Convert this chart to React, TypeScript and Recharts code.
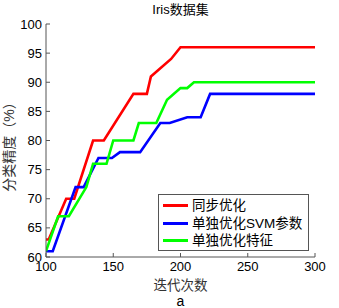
import { LineChart, Line, XAxis, YAxis } from 'recharts'

// iteration count (x) and classification accuracy in % (y)
const syncIter = [100, 102, 115, 121, 135, 143, 165, 175, 178, 193, 200, 300]
const syncAcc = [63, 63, 70, 70, 80, 80, 88, 88, 91, 94, 96, 96]

const svmIter = [100, 105, 122, 128, 139, 149, 155, 170, 185, 192, 205, 215, 222, 300]
const svmAcc = [61, 61, 72, 72, 77, 77, 78, 78, 83, 83, 84, 84, 88, 88]

const featIter = [100, 109, 117, 130, 135, 145, 150, 165, 169, 182, 190, 200, 205, 210, 300]
const featAcc = [61, 67, 67, 72, 76, 76, 80, 80, 83, 83, 87, 89, 89, 90, 90]

const seriesNames = ['同步优化', '单独优化SVM参数', '单独优化特征']
const xTicks = [100, 150, 200, 250, 300]
const yTicks = [60, 65, 70, 75, 80, 85, 90, 95, 100]

const toPoints = (xs: number[], ys: number[]) => xs.map((x, i) => ({ iter: x, acc: ys[i] }))

const colors = ['#ff0000', '#0000ff', '#00ff00']
const axisColor = '#555'
const numFont = '"Liberation Sans", Arial, sans-serif'
const cjkFont = '"Liberation Sans", "Noto Sans CJK SC", sans-serif'

// legend box drawn over the plot, like matlab's 'southeast' legend
const LegendBox = () => (
	<div
		style={{
			position: 'absolute',
			left: 158,
			top: 194,
			width: 151,
			height: 57,
			boxSizing: 'border-box',
			border: `1px solid ${axisColor}`,
			background: '#fff',
			paddingTop: 2,
		}}
	>
		{seriesNames.map((name, i) => (
			<div key={name} style={{ display: 'flex', alignItems: 'center', height: 17.5 }}>
				<div style={{ width: 25, height: 3, background: colors[i], marginLeft: 4, marginRight: 4 }} />
				<span style={{ fontFamily: cjkFont, fontSize: 13.5, color: '#000', lineHeight: '17px' }}>{name}</span>
			</div>
		))}
	</div>
)

const App = () => {
	const sync = toPoints(syncIter, syncAcc)
	const svm = toPoints(svmIter, svmAcc)
	const feat = toPoints(featIter, featAcc)

	return (
		<div style={{ position: 'absolute', left: 0, top: 0, width: 339, height: 308, background: '#fff' }}>
			<div
				style={{
					position: 'absolute',
					left: 46,
					width: 269,
					top: -1,
					textAlign: 'center',
					fontFamily: cjkFont,
					fontSize: 13,
					color: '#000',
				}}
			>
				Iris数据集
			</div>
			<LineChart width={339} height={308} margin={{ top: 24, right: 24, left: 0, bottom: 0 }}>
				<XAxis
					dataKey='iter'
					type='number'
					domain={[100, 300]}
					ticks={xTicks}
					allowDataOverflow
					height={51}
					stroke={axisColor}
					tickSize={-4}
					tickMargin={9}
					tick={{ fill: '#000', fontSize: 13, fontFamily: numFont }}
					label={({ viewBox }: any) => (
						<text
							x={viewBox.x + viewBox.width / 2}
							y={290}
							textAnchor='middle'
							fontSize={13.5}
							fontFamily={cjkFont}
							fill='#333'
						>
							迭代次数
						</text>
					)}
				/>
				<XAxis
					xAxisId='top'
					orientation='top'
					type='number'
					domain={[100, 300]}
					ticks={xTicks}
					height={0}
					stroke={axisColor}
					tickSize={-4}
					tick={false}
				/>
				<YAxis
					dataKey='acc'
					type='number'
					domain={[60, 100]}
					ticks={yTicks}
					allowDataOverflow
					width={46}
					stroke={axisColor}
					tickSize={-4}
					tickMargin={8}
					tick={{ fill: '#000', fontSize: 13, fontFamily: numFont }}
					label={({ viewBox }: any) => (
						<text
							x={14}
							y={viewBox.y + viewBox.height / 2 + 3}
							textAnchor='middle'
							fontSize={14}
							fontFamily={cjkFont}
							fill='#333'
							transform={`rotate(-90 14 ${viewBox.y + viewBox.height / 2 + 3})`}
						>
							分类精度（%）
						</text>
					)}
				/>
				<YAxis
					yAxisId='right'
					orientation='right'
					type='number'
					domain={[60, 100]}
					ticks={yTicks}
					width={0}
					stroke={axisColor}
					tickSize={-4}
					tick={false}
				/>
				<Line data={sync} dataKey='acc' name={seriesNames[0]} stroke={colors[0]} strokeWidth={2.6} dot={false} isAnimationActive={false} />
				<Line data={svm} dataKey='acc' name={seriesNames[1]} stroke={colors[1]} strokeWidth={2.6} dot={false} isAnimationActive={false} />
				<Line data={feat} dataKey='acc' name={seriesNames[2]} stroke={colors[2]} strokeWidth={2.6} dot={false} isAnimationActive={false} />
			</LineChart>
			<LegendBox />
			<div
				style={{
					position: 'absolute',
					left: 46,
					width: 269,
					top: 294,
					lineHeight: '14px',
					textAlign: 'center',
					fontFamily: numFont,
					fontSize: 14,
					color: '#000',
				}}
			>
				a
			</div>
		</div>
	)
}

export default App
